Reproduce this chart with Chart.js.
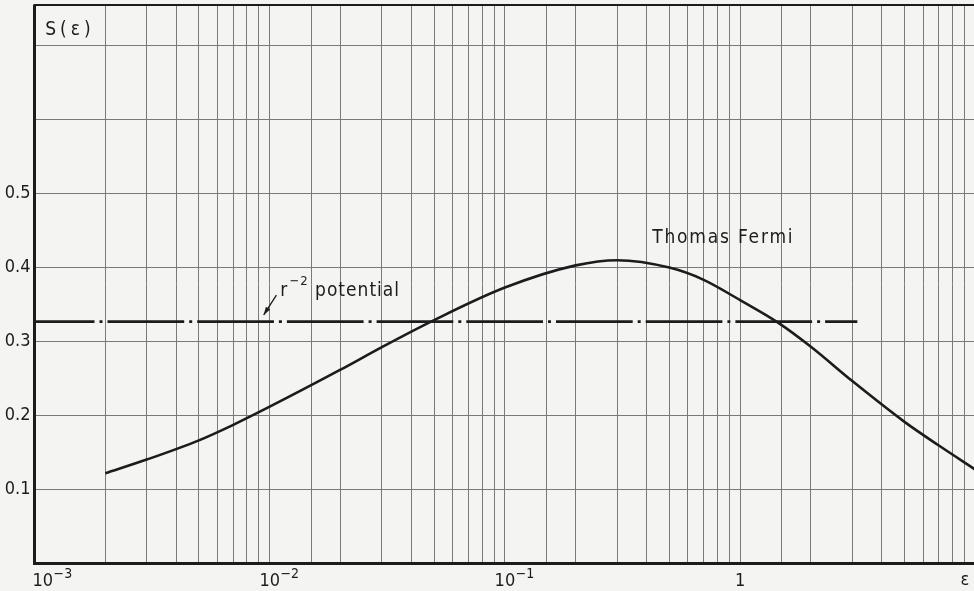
<!DOCTYPE html>
<html>
<head>
  <title>S(ε)</title>
  <script src="https://cdn.jsdelivr.net/npm/chart.js@4"></script>
  <style>
    html, body { margin: 0; padding: 0; background: #f4f4f3; overflow: hidden; }
    canvas { display: block; }
  </style>
</head>
<body>
<canvas id="chart" width="980" height="591"></canvas>
<script>
// Thomas-Fermi stopping curve
const tfEps = [0.002, 0.003, 0.005, 0.007, 0.01, 0.02, 0.03, 0.05, 0.1, 0.2, 0.3, 0.5, 0.7,
  1, 1.46, 2, 3, 5, 7, 10];
const tfS = [0.122, 0.1405, 0.1665, 0.1875, 0.212, 0.262, 0.2925, 0.329, 0.373, 0.403, 0.410,
  0.400, 0.3835, 0.356, 0.325, 0.293, 0.2466, 0.1915, 0.1595, 0.127];

// r^-2 potential: constant
const r2Eps = [0.001, 3.15];
const r2S = [0.327, 0.327];

const xTickValues = [0.001, 0.01, 0.1, 1];
const xTickBase = ['10', '10', '10', '1'];
const xTickExp = ['−3', '−2', '−1', ''];
const yTickValues = [0.1, 0.2, 0.3, 0.4, 0.5];
const yTickLabels = ['0.1', '0.2', '0.3', '0.4', '0.5'];

const FONT = '"DejaVu Sans Condensed", "DejaVu Sans", sans-serif';
const INK = '#1c1c1c';

const overlay = {
  id: 'overlay',
  afterDraw(chart) {
    const { ctx, chartArea: a, scales: { x, y } } = chart;
    ctx.save();
    // frame
    ctx.strokeStyle = INK;
    ctx.lineWidth = 2;
    ctx.strokeRect(a.left, a.top, a.right - a.left, a.bottom - a.top);
    ctx.lineWidth = 3;
    ctx.beginPath();
    ctx.moveTo(a.left, a.top); ctx.lineTo(a.left, a.bottom); ctx.lineTo(a.right, a.bottom);
    ctx.stroke();

    ctx.fillStyle = INK;
    ctx.textBaseline = 'alphabetic';

    // x tick labels: base centred on the tick, exponent raised on the right
    xTickValues.forEach((v, i) => {
      ctx.font = '18px ' + FONT;
      ctx.letterSpacing = '0px';
      const w = ctx.measureText(xTickBase[i]).width;
      const px = Math.max(x.getPixelForValue(v), a.left + w / 2 - 2);
      ctx.textAlign = 'center';
      ctx.fillText(xTickBase[i], px, a.bottom + 22);
      if (xTickExp[i]) {
        ctx.textAlign = 'left';
        ctx.font = '14px ' + FONT;
        ctx.fillText(xTickExp[i], px + w / 2 + 0.5, a.bottom + 14);
      }
    });
    ctx.textAlign = 'right';
    ctx.font = '18px ' + FONT;
    ctx.fillText('ε', x.getPixelForValue(10) - 6, a.bottom + 21);
    ctx.textAlign = 'left';

    ctx.font = '19px ' + FONT;
    ctx.letterSpacing = '4px';
    ctx.fillText('S(ε)', x.getPixelForValue(0.00111), y.getPixelForValue(0.714));

    ctx.letterSpacing = '1.8px';
    ctx.fillText('Thomas Fermi', x.getPixelForValue(0.423), y.getPixelForValue(0.433));

    // r^-2 potential label
    ctx.letterSpacing = '1px';
    let tx = x.getPixelForValue(0.0111), ty = y.getPixelForValue(0.3615);
    ctx.fillText('r', tx, ty);
    tx += ctx.measureText('r').width + 1;
    ctx.font = '13px ' + FONT;
    ctx.fillText('−2', tx, ty - 11);
    tx += ctx.measureText('−2').width;
    ctx.font = '19px ' + FONT;
    ctx.fillText(' potential', tx, ty);

    // leader arrow
    const x1 = x.getPixelForValue(0.01068), y1 = y.getPixelForValue(0.3628);
    const x2 = x.getPixelForValue(0.00943), y2 = y.getPixelForValue(0.336);
    ctx.lineWidth = 1.3;
    ctx.beginPath(); ctx.moveTo(x1, y1); ctx.lineTo(x2, y2); ctx.stroke();
    const ang = Math.atan2(y2 - y1, x2 - x1);
    ctx.beginPath();
    ctx.moveTo(x2, y2);
    ctx.lineTo(x2 - 8 * Math.cos(ang) + 2.5 * Math.sin(ang), y2 - 8 * Math.sin(ang) - 2.5 * Math.cos(ang));
    ctx.lineTo(x2 - 8 * Math.cos(ang) - 2.5 * Math.sin(ang), y2 - 8 * Math.sin(ang) + 2.5 * Math.cos(ang));
    ctx.closePath(); ctx.fill();
    ctx.restore();
  }
};

function pick(v, vals, labels) {
  for (let i = 0; i < vals.length; i++) {
    if (Math.abs(v - vals[i]) < 1e-6) return labels[i];
  }
  return '';
}

new Chart(document.getElementById('chart'), {
  type: 'line',
  data: {
    datasets: [
      {
        label: 'Thomas Fermi',
        data: tfEps.map((e, i) => ({ x: e, y: tfS[i] })),
        borderColor: INK,
        borderWidth: 2.6,
        pointRadius: 0,
        fill: false,
        cubicInterpolationMode: 'monotone'
      },
      {
        label: 'r^-2 potential',
        data: r2Eps.map((e, i) => ({ x: e, y: r2S[i] })),
        borderColor: INK,
        borderWidth: 2.6,
        borderDash: [76.7, 5, 3, 5],
        borderDashOffset: 16.7,
        pointRadius: 0,
        fill: false
      }
    ]
  },
  options: {
    responsive: false,
    devicePixelRatio: 1,
    animation: false,
    layout: { padding: { top: 5, right: 4.7, left: 0, bottom: 0 } },
    plugins: { legend: { display: false }, tooltip: { enabled: false } },
    scales: {
      x: {
        type: 'logarithmic',
        min: 0.001,
        max: 10,
        grid: { color: '#7a7a7a', lineWidth: 1, drawTicks: false },
        border: { display: false },
        ticks: { autoSkip: false, maxRotation: 0, minRotation: 0, callback: () => '' },
        afterFit: s => { s.height = 27.5; s.paddingLeft = 0; s.paddingRight = 0; }
      },
      y: {
        min: 0,
        max: 0.755,
        grid: { color: '#7a7a7a', lineWidth: 1, drawTicks: false },
        border: { display: false },
        ticks: {
          stepSize: 0.1, padding: 4,
          color: INK, font: { family: FONT, size: 18 },
          callback: v => pick(v, yTickValues, yTickLabels)
        },
        afterFit: s => { s.width = 34.5; s.paddingTop = 0; s.paddingBottom = 0; }
      }
    }
  },
  plugins: [overlay]
});
</script>
</body>
</html>
